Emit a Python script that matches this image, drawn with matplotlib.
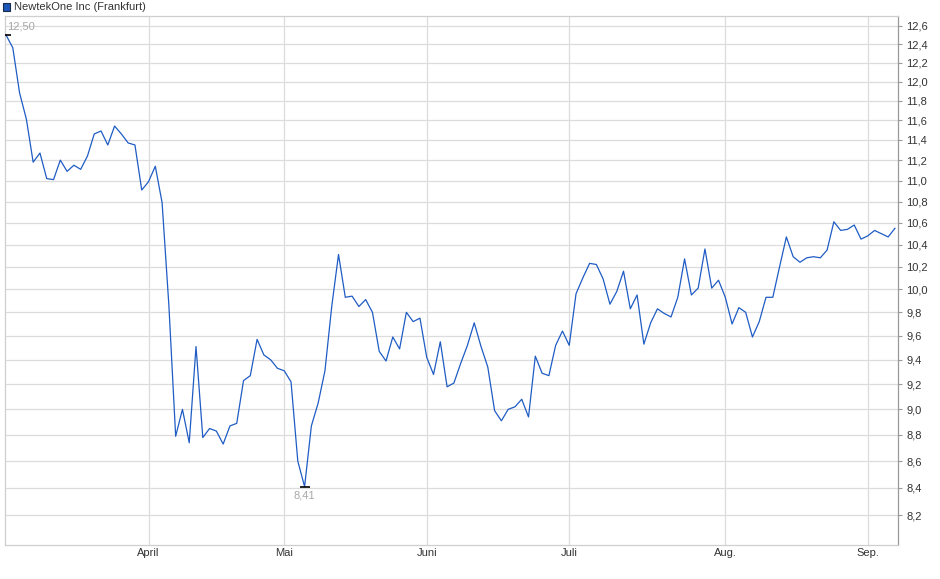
import numpy as np
import matplotlib
matplotlib.use("Agg")
import matplotlib.pyplot as plt
from matplotlib.ticker import FixedLocator, FuncFormatter, NullLocator

plt.rcParams['font.family'] = ['Liberation Sans', 'DejaVu Sans']

title = 'NewtekOne Inc (Frankfurt)'

# closing prices, one per trading day (Maerz..Sep.)
prices = [
    12.50, 12.36, 11.88, 11.61, 11.18, 11.27, 11.02, 11.01, 11.20, 11.09,
    11.15, 11.11, 11.24, 11.46, 11.49, 11.35, 11.54, 11.46, 11.37, 11.35,
    10.91, 10.99, 11.14, 10.79, 9.86, 8.79, 9.00, 8.74, 9.51, 8.78,
    8.85, 8.83, 8.73, 8.87, 8.89, 9.23, 9.27, 9.57, 9.44, 9.40,
    9.33, 9.31, 9.22, 8.60, 8.41, 8.87, 9.05, 9.31, 9.85, 10.31,
    9.93, 9.94, 9.85, 9.91, 9.80, 9.47, 9.39, 9.59, 9.49, 9.80,
    9.72, 9.75, 9.42, 9.28, 9.55, 9.18, 9.21, 9.37, 9.52, 9.71,
    9.51, 9.34, 8.99, 8.91, 9.00, 9.02, 9.08, 8.94, 9.43, 9.29,
    9.27, 9.52, 9.64, 9.52, 9.96, 10.10, 10.23, 10.22, 10.09, 9.87,
    9.98, 10.16, 9.83, 9.95, 9.53, 9.71, 9.83, 9.79, 9.76, 9.93,
    10.27, 9.95, 10.01, 10.36, 10.01, 10.08, 9.93, 9.70, 9.84, 9.80,
    9.59, 9.72, 9.93, 9.93, 10.20, 10.47, 10.29, 10.24, 10.28, 10.29,
    10.28, 10.35, 10.61, 10.53, 10.54, 10.58, 10.45, 10.48, 10.53, 10.50,
    10.47, 10.55,
]

# first trading day of each month (index into prices)
month_idx = [21, 41, 62, 83, 106, 127]
month_labels = ['April', 'Mai', 'Juni', 'Juli', 'Aug.', 'Sep.']

y_ticks = [8.2, 8.4, 8.6, 8.8, 9.0, 9.2, 9.4, 9.6, 9.8, 10.0, 10.2, 10.4,
           10.6, 10.8, 11.0, 11.2, 11.4, 11.6, 11.8, 12.0, 12.2, 12.4, 12.6]

line_col = '#1f5cc4'
grid_col = '#dcdcdc'
text_col = '#333333'

x = np.arange(len(prices))
y = np.array(prices)

fig = plt.figure(figsize=(9.4, 5.79), dpi=100)
ax = fig.add_axes([5 / 940, 1 - 545 / 579, 893 / 940, 529 / 579])

ax.set_yscale('log')
ax.set_xlim(-0.15, 131.45)
ax.set_ylim(7.99, 12.71)

ax.plot(x, y, color=line_col, lw=0.9, zorder=3)

# high / low markers
i_max = int(np.argmax(y))
i_min = int(np.argmin(y))
ax.plot([i_max, i_min], [y[i_max], y[i_min]], ls='none', marker='_',
        ms=7, mew=1.2, color='black', zorder=4)
ax.annotate(f'{y[i_max]:.2f}'.replace('.', ','), (i_max, y[i_max]),
            xytext=(0.5, 5.8), textcoords='offset points', ha='left', va='center',
            fontsize=8, color='#a8a8a8')
ax.annotate(f'{y[i_min]:.2f}'.replace('.', ','), (i_min, y[i_min]),
            xytext=(0, -3), textcoords='offset points', ha='center', va='top',
            fontsize=8, color='#a8a8a8')

# axes, grid
ax.yaxis.set_major_locator(FixedLocator(y_ticks))
ax.yaxis.set_minor_locator(NullLocator())
ax.yaxis.set_major_formatter(FuncFormatter(lambda v, p: f'{v:.1f}'.replace('.', ',')))
ax.yaxis.tick_right()
ax.set_xticks(month_idx)
ax.set_xticklabels(month_labels)
ax.grid(True, color=grid_col, lw=0.9, zorder=0)
ax.set_axisbelow(True)

ax.tick_params(axis='y', which='major', length=3, width=0.8, color='#999999',
               labelsize=8, labelcolor=text_col, pad=3)
ax.tick_params(axis='x', which='major', length=0, labelsize=8,
               labelcolor=text_col, pad=2)
for side in ['left', 'bottom', 'right', 'top']:
    ax.spines[side].set_color('#cfcfcf')
    ax.spines[side].set_linewidth(0.9)
ax.spines['right'].set_color('#999999')

# legend box at the top
fig.patches.append(plt.Rectangle((3 / 940, 1 - 11 / 579), 7 / 940, 8 / 579,
                                 transform=fig.transFigure, facecolor='#1c56b8',
                                 edgecolor='#1a2a4a', lw=0.8))
fig.text(14 / 940, 1 - 7 / 579, title, fontsize=8, color=text_col,
         ha='left', va='center')

fig.savefig('out.png', dpi=100)
